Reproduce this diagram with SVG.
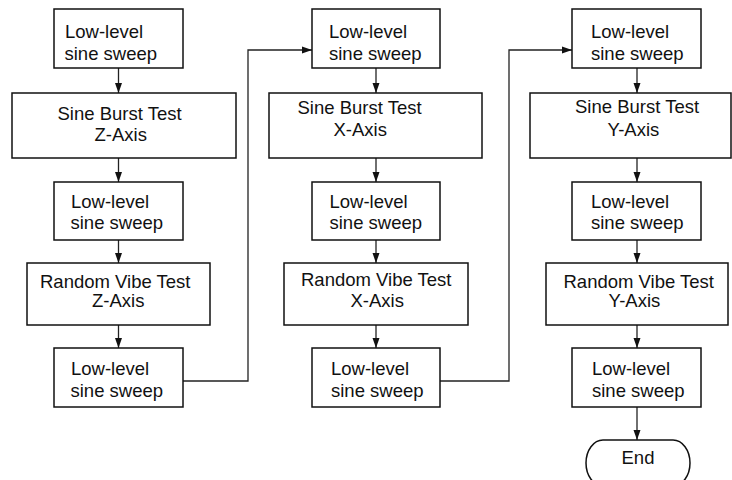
<svg xmlns="http://www.w3.org/2000/svg" width="732" height="480" viewBox="0 0 732 480">
<defs>
<style>
.box{fill:#fff;stroke:#111;stroke-width:1.5}
.lbl{font-family:"Liberation Sans",Arial,sans-serif;font-size:18.5px;fill:#111}
.con{fill:none;stroke:#222;stroke-width:1.3}
</style>
<marker id="ah" markerUnits="userSpaceOnUse" markerWidth="10" markerHeight="10" viewBox="0 0 10 10" refX="10" refY="5" orient="auto">
<path d="M0,1.5 L10,5 L0,8.5 Z" fill="#111"/>
</marker>
</defs>
<rect width="732" height="480" fill="#fff"/>
<g id="connectors">
<path class="con" marker-end="url(#ah)" d="M118.5,68 V93"/>
<path class="con" marker-end="url(#ah)" d="M118.5,158 V182"/>
<path class="con" marker-end="url(#ah)" d="M118.5,240 V263"/>
<path class="con" marker-end="url(#ah)" d="M118.5,325 V348"/>
<path class="con" marker-end="url(#ah)" d="M183,381 H248 V50 H312"/>
<path class="con" marker-end="url(#ah)" d="M376,68 V93"/>
<path class="con" marker-end="url(#ah)" d="M376,158 V182"/>
<path class="con" marker-end="url(#ah)" d="M376,240 V263"/>
<path class="con" marker-end="url(#ah)" d="M376,325 V348"/>
<path class="con" marker-end="url(#ah)" d="M440,381 H509 V50 H572"/>
<path class="con" marker-end="url(#ah)" d="M637,68 V93"/>
<path class="con" marker-end="url(#ah)" d="M637,158 V182"/>
<path class="con" marker-end="url(#ah)" d="M637,240 V263"/>
<path class="con" marker-end="url(#ah)" d="M637,325 V348"/>
<path class="con" marker-end="url(#ah)" d="M637,407 V440"/>
</g>
<g id="z1">
<rect class="box" x="54" y="9" width="129" height="59"/>
<text class="lbl" x="65" y="38">Low-level</text>
<text class="lbl" x="64.5" y="59.5">sine sweep</text>
</g>
<g id="z2">
<rect class="box" x="12" y="93" width="224" height="65"/>
<text class="lbl" x="57.5" y="119.5">Sine Burst Test</text>
<text class="lbl" x="94.5" y="140.5">Z-Axis</text>
</g>
<g id="z3">
<rect class="box" x="54" y="182" width="129" height="58"/>
<text class="lbl" x="71" y="208">Low-level</text>
<text class="lbl" x="70.5" y="228.5">sine sweep</text>
</g>
<g id="z4">
<rect class="box" x="27" y="263" width="183" height="62"/>
<text class="lbl" x="40" y="288">Random Vibe Test</text>
<text class="lbl" x="92" y="307">Z-Axis</text>
</g>
<g id="z5">
<rect class="box" x="54" y="348" width="129" height="59"/>
<text class="lbl" x="71" y="375">Low-level</text>
<text class="lbl" x="70.5" y="396.5">sine sweep</text>
</g>
<g id="x1">
<rect class="box" x="312" y="9" width="128" height="59"/>
<text class="lbl" x="329" y="38">Low-level</text>
<text class="lbl" x="329" y="59.5">sine sweep</text>
</g>
<g id="x2">
<rect class="box" x="269" y="93" width="213" height="65"/>
<text class="lbl" x="297.5" y="113.5">Sine Burst Test</text>
<text class="lbl" x="333.5" y="136">X-Axis</text>
</g>
<g id="x3">
<rect class="box" x="312" y="182" width="128" height="58"/>
<text class="lbl" x="329.5" y="208">Low-level</text>
<text class="lbl" x="329.5" y="228.5">sine sweep</text>
</g>
<g id="x4">
<rect class="box" x="284" y="263" width="184" height="62"/>
<text class="lbl" x="301" y="286">Random Vibe Test</text>
<text class="lbl" x="350.5" y="306.5">X-Axis</text>
</g>
<g id="x5">
<rect class="box" x="312" y="348" width="128" height="59"/>
<text class="lbl" x="331" y="375">Low-level</text>
<text class="lbl" x="331" y="396.5">sine sweep</text>
</g>
<g id="y1">
<rect class="box" x="572" y="9" width="129" height="59"/>
<text class="lbl" x="591" y="38">Low-level</text>
<text class="lbl" x="591" y="59.5">sine sweep</text>
</g>
<g id="y2">
<rect class="box" x="530" y="93" width="201" height="65"/>
<text class="lbl" x="575" y="113">Sine Burst Test</text>
<text class="lbl" x="607.5" y="135.5">Y-Axis</text>
</g>
<g id="y3">
<rect class="box" x="572" y="182" width="129" height="58"/>
<text class="lbl" x="591" y="208">Low-level</text>
<text class="lbl" x="591" y="228.5">sine sweep</text>
</g>
<g id="y4">
<rect class="box" x="546" y="263" width="182" height="62"/>
<text class="lbl" x="563.5" y="288">Random Vibe Test</text>
<text class="lbl" x="608.5" y="307">Y-Axis</text>
</g>
<g id="y5">
<rect class="box" x="572" y="348" width="129" height="59"/>
<text class="lbl" x="592" y="375">Low-level</text>
<text class="lbl" x="592" y="396.5">sine sweep</text>
</g>
<g id="end">
<path class="box" d="M603,440 H673 A17,23 0 0 1 673,486 H603 A17,23 0 0 1 603,440 Z"/>
<text class="lbl" x="638" y="463.5" text-anchor="middle">End</text>
</g>
</svg>
